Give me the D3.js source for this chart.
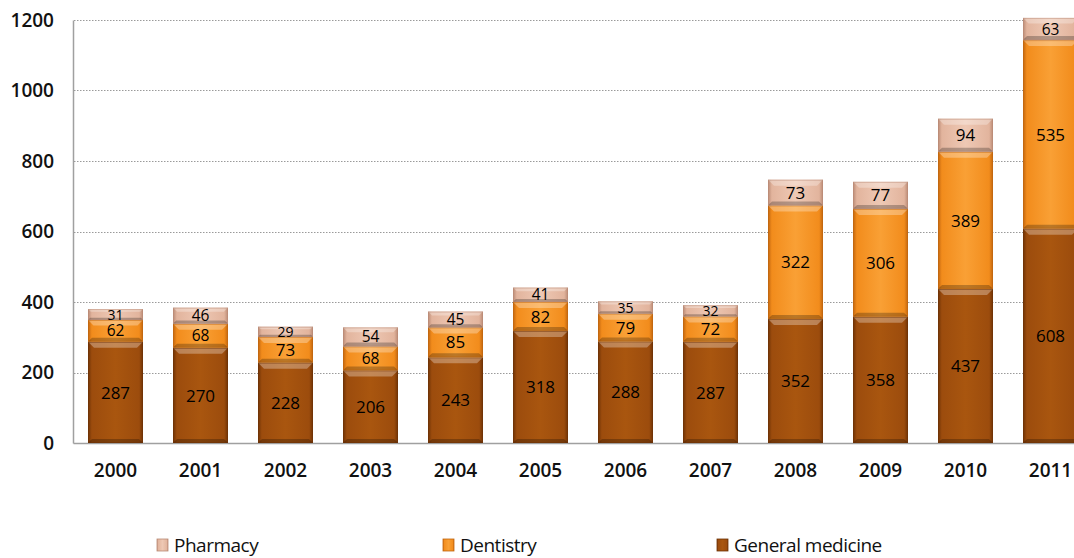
<!DOCTYPE html>
<html><head><meta charset="utf-8">
<script src="https://cdn.jsdelivr.net/npm/d3@7"></script>
<style>body{margin:0;background:#fff}</style>
</head><body>
<script>
const years = ["2000","2001","2002","2003","2004","2005","2006","2007","2008","2009","2010","2011"];
const generalMedicine = [287,270,228,206,243,318,288,287,352,358,437,608];
const dentistry = [62,68,73,68,85,82,79,72,322,306,389,535];
const pharmacy = [31,46,29,54,45,41,35,32,73,77,94,63];
const yTicks = [0,200,400,600,800,1000,1200];
const seriesNames = ["General medicine","Dentistry","Pharmacy"];
const legendOrder = ["Pharmacy","Dentistry","General medicine"];

const W=1074,H=558;
const svg=d3.select("body").append("svg").attr("width",W).attr("height",H);
const defs=svg.append("defs");
const colors={"General medicine":["#6e3205","#9c4c0d","#a9560f"],"Dentistry":["#c0650f","#f28c1c","#f9a035"],"Pharmacy":["#b98a75","#e2b49d","#eec8b4"]};
const ids={"General medicine":"gm","Dentistry":"de","Pharmacy":"ph"};
seriesNames.forEach(s=>{
  const c=colors[s];
  const g=defs.append("linearGradient").attr("id","h"+ids[s]).attr("x1",0).attr("x2",1).attr("y1",0).attr("y2",0);
  g.append("stop").attr("offset","0").attr("stop-color",c[0]);
  g.append("stop").attr("offset","0.07").attr("stop-color",c[1]);
  g.append("stop").attr("offset","0.5").attr("stop-color",c[2]);
  g.append("stop").attr("offset","0.93").attr("stop-color",c[1]);
  g.append("stop").attr("offset","1").attr("stop-color",c[0]);
});
const fontLbl="Open Sans, Noto Sans, sans-serif";

const x=d3.scaleBand().domain(years).range([73,1093]).paddingInner(0.353).paddingOuter(0.1765);
const y=d3.scaleLinear().domain([0,1200]).range([443,20]);

// gridlines
svg.append("g").selectAll("line").data(yTicks.filter(d=>d>0)).join("line")
  .attr("x1",74).attr("x2",W).attr("y1",d=>Math.round(y(d))+0.5).attr("y2",d=>Math.round(y(d))+0.5)
  .attr("stroke","#9a9a9a").attr("stroke-dasharray","1.5,1.5").attr("stroke-width",1);

// axes
const ya=svg.append("g").attr("transform","translate(73,0)").call(d3.axisLeft(y).tickValues(yTicks).tickFormat(d3.format("d")).tickSize(0).tickPadding(19));
ya.select(".domain").attr("stroke","#a0a0a0").attr("stroke-width",1.5);
ya.selectAll("text").attr("font-family",fontLbl).attr("font-size",19).attr("font-weight",600).attr("fill","#111");

const xa=svg.append("g").attr("transform","translate(0,443)").call(d3.axisBottom(x).tickSize(0).tickPadding(21));
xa.select(".domain").attr("stroke","#a0a0a0").attr("stroke-width",1.5);
xa.selectAll("text").attr("font-family",fontLbl).attr("font-size",19).attr("font-weight",600).attr("fill","#111");

const stackData=years.map((yr,i)=>({year:yr,"General medicine":generalMedicine[i],"Dentistry":dentistry[i],"Pharmacy":pharmacy[i]}));
const stacked=d3.stack().keys(seriesNames)(stackData);

stacked.forEach(layer=>{
  const s=layer.key;
  const c=colors[s];
  const g=svg.append("g");
  layer.forEach(d=>{
    const x0=x(d.data.year), bw=x.bandwidth();
    const yt=y(d[1]), yb=y(d[0]), h=yb-yt;
    g.append("rect").attr("x",x0).attr("y",yt).attr("width",bw).attr("height",h).attr("fill",`url(#h${ids[s]})`);
    const bev=Math.min(6,h/4);
    g.append("path").attr("d",`M${x0},${yt}L${x0+bw},${yt}L${x0+bw-bev},${yt+bev}L${x0+bev},${yt+bev}Z`).attr("fill","#fff").attr("opacity",0.3);
    const bb=Math.min(4,h/5);
    g.append("path").attr("d",`M${x0},${yb}L${x0+bw},${yb}L${x0+bw-bb},${yb-bb}L${x0+bb},${yb-bb}Z`).attr("fill","#000").attr("opacity",0.25);
    g.append("rect").attr("x",x0+0.5).attr("y",yt+0.5).attr("width",bw-1).attr("height",h-1).attr("fill","none").attr("stroke",c[0]).attr("stroke-opacity",0.5);
    g.append("text").attr("x",x0+bw/2).attr("y",(yt+yb)/2).attr("dy","0.36em").attr("text-anchor","middle")
      .attr("font-family",fontLbl).attr("font-size",h<14?14:(h<24?15.5:17)).attr("fill","#000").text(d[1]-d[0]);
  });
});

// legend
const lx=[157,443,717];
legendOrder.forEach((s,i)=>{
  const g=svg.append("g").attr("transform",`translate(${lx[i]},539)`);
  g.append("rect").attr("width",11).attr("height",12).attr("fill",`url(#h${ids[s]})`).attr("stroke",colors[s][0]).attr("stroke-width",0.8);
  g.append("text").attr("x",17).attr("y",13).attr("font-family","Open Sans, Liberation Sans, sans-serif").attr("font-size",19).attr("letter-spacing","-0.5").attr("fill","#111").text(s);
});
</script>
</body></html>
